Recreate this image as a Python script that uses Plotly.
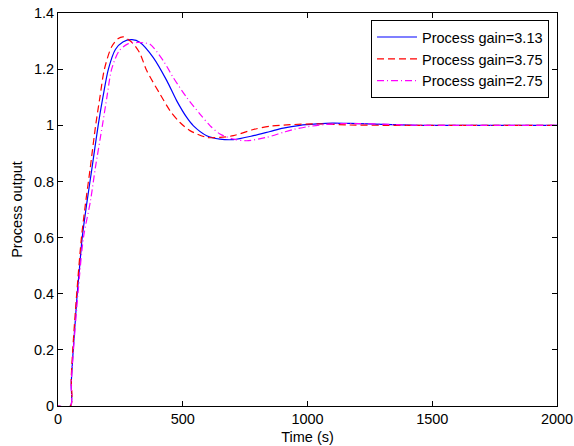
import plotly.graph_objects as go

# Time (s) and process output for each process gain
t_313 = [0, 50, 53, 61, 69, 77, 87, 97, 115, 135, 161, 180, 202, 230, 260, 297, 329, 382, 436, 476, 516, 542,
         596, 649, 703, 783, 850, 903, 970, 1037, 1100, 1170, 1300, 1450, 1600, 1800, 2000]
y_313 = [0, 0, 0.08, 0.2, 0.3, 0.4, 0.5, 0.6, 0.72, 0.84, 1.0, 1.1, 1.2, 1.27, 1.297, 1.305, 1.295, 1.241, 1.159,
         1.087, 1.028, 0.999, 0.963, 0.951, 0.949, 0.963, 0.978, 0.99, 1.0, 1.005, 1.008, 1.007, 1.003, 1.0, 1.0,
         1.0, 1.0]

t_375 = [0, 50, 53, 59, 75, 94, 110, 128, 151, 168, 186, 215, 240, 262, 290, 309, 329, 356, 409, 449, 489, 529,
         596, 649, 703, 783, 850, 930, 1037, 1170, 1300, 1450, 1600, 2000]
y_375 = [0, 0, 0.1, 0.2, 0.4, 0.6, 0.72, 0.84, 1.0, 1.1, 1.2, 1.28, 1.308, 1.315, 1.3, 1.283, 1.255, 1.194, 1.111,
         1.052, 1.010, 0.981, 0.957, 0.957, 0.963, 0.985, 0.997, 1.002, 1.005, 1.001, 1.0, 1.0, 1.0, 1.0]

t_275 = [0, 50, 53, 62, 80, 102, 130, 150, 178, 196, 215, 245, 280, 318, 350, 369, 422, 462, 516, 569, 609, 649,
         703, 756, 836, 903, 943, 1000, 1063, 1130, 1210, 1300, 1450, 1600, 2000]
y_275 = [0, 0, 0.08, 0.2, 0.4, 0.6, 0.73, 0.85, 1.0, 1.1, 1.2, 1.265, 1.29, 1.295, 1.293, 1.289, 1.230, 1.170,
         1.099, 1.040, 0.999, 0.969, 0.951, 0.945, 0.957, 0.975, 0.985, 0.995, 1.002, 1.006, 1.006, 1.004, 1.0,
         1.0, 1.0]

names = ["Process gain=3.13", "Process gain=3.75", "Process gain=2.75"]
x_ticks = [0, 500, 1000, 1500, 2000]
y_ticks = [0, 0.2, 0.4, 0.6, 0.8, 1.0, 1.2, 1.4]
y_ticktext = ["0", "0.2", "0.4", "0.6", "0.8", "1", "1.2", "1.4"]

FONT = "Liberation Sans, Arial, sans-serif"
FS = 14.5

fig = go.Figure()
fig.add_trace(go.Scatter(x=t_313, y=y_313, mode="lines", name=names[0],
                         line=dict(color="#0000ff", width=1.2, shape="spline", smoothing=0.8)))
fig.add_trace(go.Scatter(x=t_375, y=y_375, mode="lines", name=names[1],
                         line=dict(color="#ff0000", width=1.2, dash="7px,4px", shape="spline", smoothing=0.8)))
fig.add_trace(go.Scatter(x=t_275, y=y_275, mode="lines", name=names[2],
                         line=dict(color="#ff00ff", width=1.2, dash="7px,3px,1px,3px", shape="spline",
                                   smoothing=0.8)))

axis_common = dict(showline=True, linecolor="black", linewidth=1, mirror="allticks", ticks="inside",
                   ticklen=5, tickcolor="black", tickwidth=1, showgrid=False, zeroline=False,
                   automargin=False, tickfont=dict(family=FONT, size=FS, color="black"))

fig.update_layout(
    width=574, height=446,
    margin=dict(l=58, r=17, t=13, b=40),
    paper_bgcolor="white", plot_bgcolor="white",
    font=dict(family=FONT, size=FS, color="black"),
    xaxis=dict(range=[0, 2000], tickvals=x_ticks, ticktext=[str(v) for v in x_ticks],
               title=dict(text="Time (s)", font=dict(family=FONT, size=FS), standoff=5), **axis_common),
    yaxis=dict(range=[0, 1.4], tickvals=y_ticks, ticktext=y_ticktext,
               title=dict(text="Process output", font=dict(family=FONT, size=FS), standoff=7), **axis_common),
    legend=dict(x=0.984, y=0.982, xanchor="right", yanchor="top", bgcolor="white", bordercolor="black",
                borderwidth=1, font=dict(family=FONT, size=FS), tracegroupgap=0, itemwidth=40),
    showlegend=True,
)

fig.write_html("out.html", config={"displayModeBar": False},
               post_script="document.body.style.margin='0';document.body.style.overflow='hidden';")
